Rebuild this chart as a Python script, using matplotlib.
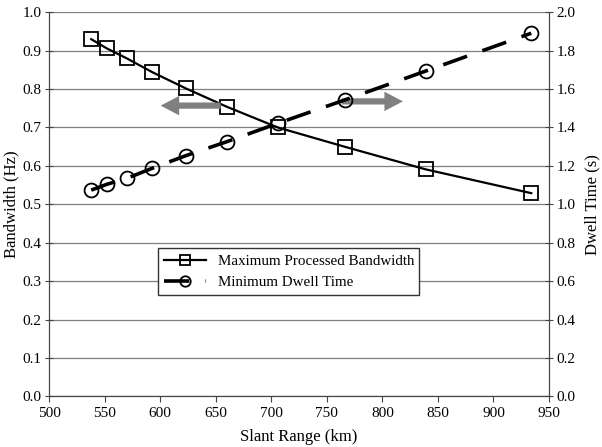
import matplotlib.pyplot as plt

plt.rcParams['font.family'] = ['Liberation Serif', 'DejaVu Serif']

# slant range (km) for each point
slant_range = [538, 552, 570, 593, 623, 660, 706, 766, 839, 934]
# maximum processed bandwidth (Hz), left axis
bandwidth = [0.930, 0.906, 0.880, 0.844, 0.802, 0.754, 0.700, 0.650, 0.591, 0.529]
# minimum dwell time (s), right axis
dwell_time = [1.074, 1.104, 1.135, 1.188, 1.253, 1.326, 1.422, 1.543, 1.694, 1.891]

x_ticks = [500, 550, 600, 650, 700, 750, 800, 850, 900, 950]
left_ticks = [0.0, 0.1, 0.2, 0.3, 0.4, 0.5, 0.6, 0.7, 0.8, 0.9, 1.0]
right_ticks = [0.0, 0.2, 0.4, 0.6, 0.8, 1.0, 1.2, 1.4, 1.6, 1.8, 2.0]

fig = plt.figure(figsize=(6.02, 4.47), dpi=100)
ax = fig.add_axes([0.0814, 0.1134, 0.8306, 0.8591])
ax2 = ax.twinx()

ax.set_xlim(500, 950)
ax.set_ylim(0, 1.0)
ax2.set_ylim(0, 2.0)
ax.set_xticks(x_ticks)
ax.set_yticks(left_ticks)
ax2.set_yticks(right_ticks)
ax.set_yticklabels(['%.1f' % v for v in left_ticks])
ax2.set_yticklabels(['%.1f' % v for v in right_ticks])

ax.grid(axis='y', color='#7f7f7f', lw=0.9)
ax.set_axisbelow(True)

for a in (ax, ax2):
    a.spines['top'].set_visible(False)
    for s in a.spines.values():
        s.set_color('#444444')
    a.tick_params(labelsize=11, color='#444444', direction='inout', length=6,
                  pad=2.5)
ax.tick_params(axis='x', direction='out', length=4, pad=4)

l1, = ax.plot(slant_range, bandwidth, color='black', lw=1.6,
              marker='s', ms=9.5, mfc='none', mec='black', mew=1.3,
              label='Maximum Processed Bandwidth')
l2, = ax2.plot(slant_range, dwell_time, color='black', lw=2.6,
               dashes=(7, 4.5), marker='o', ms=10, mfc='none', mec='black',
               mew=1.3, label='Minimum Dwell Time')

# direction arrows
arrow = dict(arrowstyle='simple,head_length=0.95,head_width=1.0,tail_width=0.32',
             mutation_scale=14, color='#808080', lw=0)
ax.annotate('', xy=(598, 0.757), xytext=(657, 0.757), arrowprops=arrow)
ax.annotate('', xy=(821, 0.768), xytext=(761, 0.768), arrowprops=arrow)

ax.set_xlabel('Slant Range (km)', fontsize=12, labelpad=6)
ax.set_ylabel('Bandwidth (Hz)', fontsize=12)
ax2.set_ylabel('Dwell Time (s)', fontsize=12)
ax.yaxis.set_label_coords(-0.06, 0.5)
ax2.yaxis.set_label_coords(1.07, 0.5)

leg = ax2.legend(handles=[l1, l2], loc='lower left',
                 bbox_to_anchor=(0.218, 0.264, 0.522, 0.156), mode='expand',
                 fontsize=10.8, fancybox=False, framealpha=1, edgecolor='#333333',
                 handlelength=2.8, markerscale=0.75, borderaxespad=0)
leg.get_frame().set_linewidth(1.0)

fig.savefig('out.png', dpi=100)
